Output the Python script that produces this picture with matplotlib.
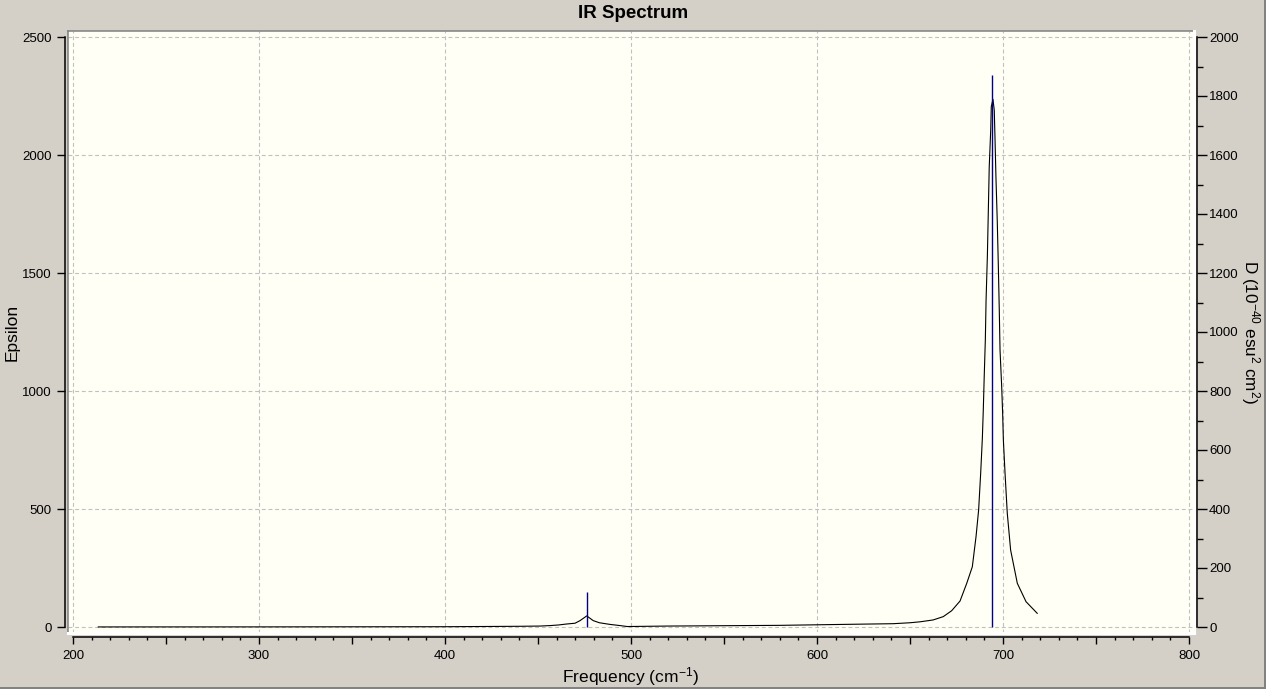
import matplotlib
matplotlib.use('Agg')
import matplotlib.pyplot as plt
from matplotlib.ticker import MultipleLocator, FuncFormatter
from matplotlib.lines import Line2D

plt.rcParams['font.family'] = ['Liberation Sans', 'DejaVu Sans']
plt.rcParams['mathtext.default'] = 'regular'

# broadened spectrum (frequency in cm-1, epsilon)
freq = [213.6, 300, 400, 440, 451, 456.5, 460.9, 465.4, 469.9, 472.6, 476.2,
        479.7, 483.0, 488.7, 494.1, 498.0, 520, 580, 614, 641, 650, 655.4,
        660.8, 662.5, 667.9, 672.4, 676.9, 680.5, 683.5, 685.5, 686.9, 688.0,
        688.9, 689.4, 689.9, 690.5, 690.9, 691.6, 692.1, 692.6, 693.4, 693.7,
        694.6, 695.3, 695.7, 696.2, 696.9, 697.5, 698.0, 698.4, 699.3, 699.8,
        700.2, 701.1, 702.3, 704.1, 707.7, 712.4, 718.4]
eps = [0.3, 0.5, 1.2, 3, 4, 6, 8.5, 12.7, 16, 27, 47,
       27, 18, 11, 6, 2, 4, 7, 11, 14, 18, 22,
       28, 30, 44, 69, 110, 185, 255, 383, 496, 652,
       800, 919, 1061, 1216, 1386, 1572, 1760, 1950, 2106, 2205,
       2236, 2190, 2071, 1908, 1724, 1527, 1343, 1174, 1018, 907,
       792, 651, 482, 326, 185, 107, 58]

# stick spectrum (dipole strength D)
stick_freq = [476.5, 694.2]
stick_d = [119, 1871]

x_grid = [200, 300, 400, 500, 600, 700, 800]
eps_grid = [0, 500, 1000, 1500, 2000, 2500]

W, H = 1266, 689
fig = plt.figure(figsize=(W / 100, H / 100), dpi=100, facecolor='#d4d0c8')
ax = fig.add_axes([68 / W, 1 - 633 / H, 1126 / W, 602 / H])
ax.set_facecolor('#fffff5')
ax.set_xlim(200 - 5 / 1.86, 800 + 5 / 1.86)
ax.set_ylim(-6 / 0.236, 2500 + 6 / 0.236)

# dashed grid
for gx in x_grid:
    ax.axvline(gx, color='#c0c0c0', lw=0.8, ls=(0, (3.5, 2.5)), zorder=0.5)
for gy in eps_grid:
    ax.axhline(gy, color='#c0c0c0', lw=0.8, ls=(0, (3.5, 2.5)), zorder=0.5)

ax.plot(freq, eps, color='black', lw=0.8, zorder=2)

# sunken frame of the plot area
ax.add_line(Line2D([0, 1], [1, 1], transform=ax.transAxes, color='#808080', lw=1.1, clip_on=False))
ax.add_line(Line2D([0, 0], [0, 1], transform=ax.transAxes, color='#808080', lw=1.1, clip_on=False))
ax.add_line(Line2D([0, 1], [0, 0], transform=ax.transAxes, color='white', lw=2.2, clip_on=False))
ax.add_line(Line2D([1, 1], [0, 1], transform=ax.transAxes, color='white', lw=2.2, clip_on=False))

for s in ['top', 'right']:
    ax.spines[s].set_visible(False)
ax.spines['left'].set_position(('outward', 2.2))
ax.spines['left'].set_bounds(0, 2500)
ax.spines['bottom'].set_position(('outward', 2.9))
ax.spines['bottom'].set_bounds(200, 800)
for s in ['left', 'bottom']:
    ax.spines[s].set_linewidth(1.1)

ax.xaxis.set_major_locator(MultipleLocator(50))
ax.xaxis.set_minor_locator(MultipleLocator(10))
ax.xaxis.set_major_formatter(FuncFormatter(lambda v, p: '%d' % v if v % 100 == 0 else ''))
ax.yaxis.set_major_locator(MultipleLocator(500))
ax.tick_params(axis='x', which='major', length=5, width=1, pad=4.3, labelsize=9.5)
ax.tick_params(axis='x', which='minor', length=2.5, width=1)
ax.tick_params(axis='y', which='major', length=5.8, width=1, pad=3.6, labelsize=9.5)

ax.set_xlabel('Frequency (cm$^{-1}$)', fontsize=12.5)
ax.xaxis.set_label_coords(0.5, -0.073)
ax.xaxis.label.set_va('center')
ax.set_ylabel('Epsilon', fontsize=12.5)
ax.yaxis.set_label_coords(-0.0497, 0.5)
ax.yaxis.label.set_va('center')
ax.yaxis.label.set_ha('center')

# right axis with the sticks
ax2 = ax.twinx()
ax2.set_ylim(-6 / 0.295, 2000 + 6 / 0.295)
ax2.vlines(stick_freq, 0, stick_d, color='#000080', lw=1.0)
for s in ['top', 'left', 'bottom']:
    ax2.spines[s].set_visible(False)
ax2.spines['right'].set_position(('outward', 2.2))
ax2.spines['right'].set_bounds(0, 2000)
ax2.spines['right'].set_linewidth(1.1)
ax2.yaxis.set_major_locator(MultipleLocator(200))
ax2.yaxis.set_minor_locator(MultipleLocator(100))
ax2.tick_params(axis='y', which='major', length=7.2, width=1, pad=1.5, labelsize=9.5)
ax2.tick_params(axis='y', which='minor', length=4.3, width=1)
ax2.set_ylabel(r'D (10$^{-40}$ esu$^{2}$ cm$^{2}$)', rotation=-90, fontsize=12.3)
ax2.yaxis.set_label_coords(1.0497, 0.5)
ax2.yaxis.label.set_va('center')
ax2.yaxis.label.set_ha('center')

fig.text(633 / W, 1 - 14 / H, 'IR Spectrum', ha='center', va='center',
         fontsize=13.5, fontweight='bold')

# window border
fig.add_artist(Line2D([0, 1], [1.5 / H, 1.5 / H], transform=fig.transFigure, color='#808080', lw=1.4))
fig.add_artist(Line2D([1 - 1.5 / W, 1 - 1.5 / W], [0, 1], transform=fig.transFigure, color='#808080', lw=1.4))

fig.savefig('out.png', dpi=100, facecolor=fig.get_facecolor())
